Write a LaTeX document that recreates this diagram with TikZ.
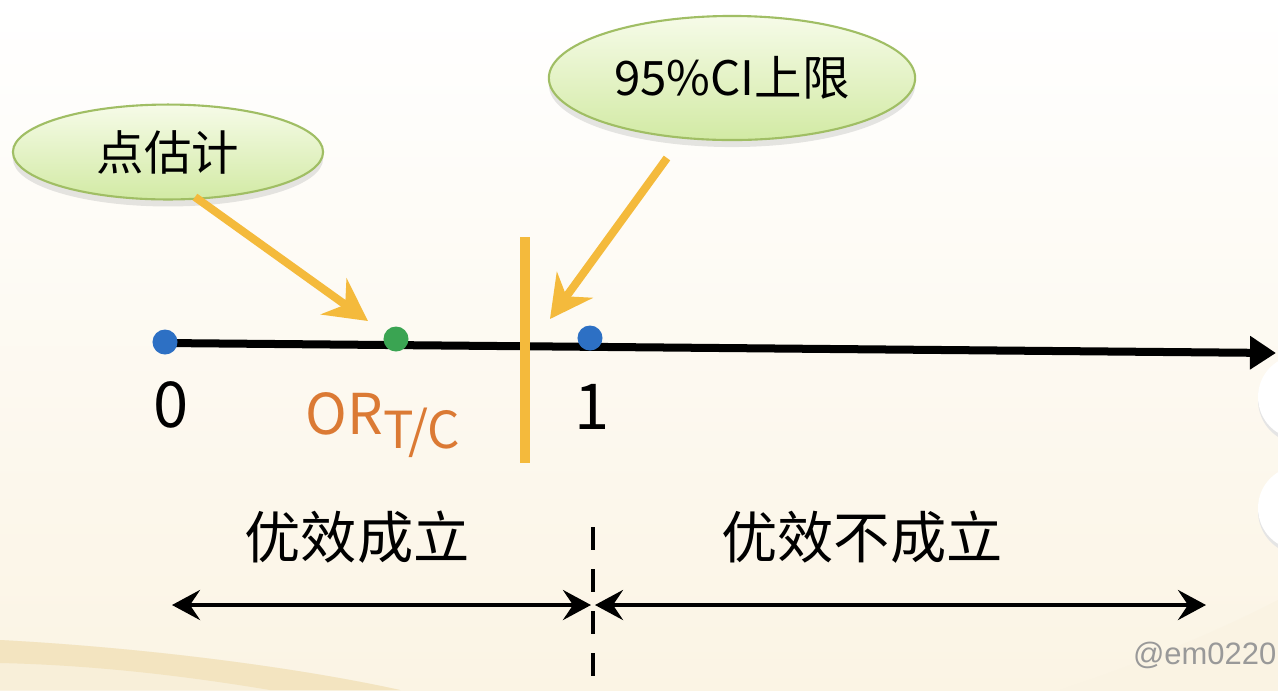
\documentclass[tikz,border=0pt]{standalone}
\usepackage{fontspec}
\setmainfont{Noto Sans CJK SC}
\newfontfamily\markfont{Liberation Sans}
\usetikzlibrary{arrows.meta,shapes.geometric,shadows}
\definecolor{gold}{RGB}{244,186,60}
\definecolor{rust}{RGB}{219,122,52}
\definecolor{dotblue}{RGB}{45,112,196}
\definecolor{dotgreen}{RGB}{58,164,82}
\definecolor{leaf}{RGB}{160,190,100}
\definecolor{budtop}{RGB}{246,251,232}
\definecolor{budbot}{RGB}{210,234,164}
\definecolor{cream}{RGB}{251,244,228}
\definecolor{sand}{RGB}{243,228,192}
\begin{document}
\begin{tikzpicture}[x=0.01cm, y=-0.01cm,
        bubble/.style={ellipse, draw=leaf, line width=0.6pt, top color=budtop, bottom color=budbot,
            drop shadow={opacity=0.2, shadow xshift=0pt, shadow yshift=-0.7mm}, font=\fontsize{13.5}{16}\selectfont},
        dot/.style={circle, fill=#1, inner sep=0pt, minimum size=2.5mm},
        pointer/.style={gold, line width=0.8mm, -{Stealth[length=4.2mm, width=4.4mm, inset=1.4mm]}},
        span/.style={line width=0.4mm, {Stealth[length=2.8mm, width=3mm, inset=1mm]}-{Stealth[length=2.8mm, width=3mm, inset=1mm]}},
        big/.style={font=\fontsize{16}{19}\selectfont}]
    \useasboundingbox (0,0) rectangle (1278,690);
    % background
    \shade[top color=white, bottom color=cream] (0,0) rectangle (1278,690);
    \fill[sand!60] (0,640)..controls(150,648)and(300,668)..(400,690) -- (0,690) -- cycle;
    \fill[sand] (0,640)..controls(150,648)and(300,668)..(400,690) -- (270,690)..controls(180,675)and(90,665)..(0,663) -- cycle;
    \fill[sand!45] (1060,690)..controls(1150,660)and(1220,630)..(1278,600) -- (1278,690) -- cycle;
    \foreach \y in {397,508}
        {
            \fill[black!10] (1302,\y+3) circle (44);
            \fill[white] (1300,\y) circle (42);
        }
    % axis
    \coordinate (start) at (165,343);
    \coordinate (end) at (1276,353);
    \draw[line width=0.8mm, -{Triangle[length=2.6mm, width=3.2mm]}] (start) -- (end);
    \coordinate (limit-top) at (525,237);
    \coordinate (limit-bot) at (525,463);
    \draw[gold, line width=1mm] (limit-top) -- (limit-bot);
    \node[dot=dotblue] (zero) at (165,342) {};
    \node[dot=dotgreen] (est) at (396,339) {};
    \node[dot=dotblue] (one) at (590,338) {};
    \node[font=\fontsize{18}{20}\selectfont] (zero-lbl) at (171,405) {0};
    \node[font=\fontsize{18}{20}\selectfont] (one-lbl) at (592,407) {1};
    \node[big, rust] (or-lbl) at (383,425) {OR\raisebox{-0.45ex}{\fontsize{14.5}{16}\selectfont T/C}};
    % bubbles
    \node[bubble, minimum width=3.1cm, minimum height=0.88cm] (est-bub) at (168,152) {点估计};
    \node[bubble, minimum width=3.64cm, minimum height=1.24cm] (ci-bub) at (732,78) {95\%CI上限};
    \coordinate (est-from) at (195,197);
    \coordinate (est-aim) at (368,321);
    \coordinate (ci-from) at (667,158);
    \coordinate (ci-aim) at (550,319);
    \draw[pointer] (est-from) -- (est-aim);
    \draw[pointer] (ci-from) -- (ci-aim);
    % regions
    \node[big] (yes) at (357,537) {优效成立};
    \node[big] (no) at (862,537) {优效不成立};
    \coordinate (split-top) at (593,527);
    \coordinate (split-bot) at (593,680);
    \draw[line width=0.45mm, dash pattern=on 2.3mm off 1.9mm] (split-top) -- (split-bot);
    \coordinate (yes-end) at (172,605);
    \coordinate (mid-l) at (591,605);
    \coordinate (mid-r) at (595,605);
    \coordinate (no-end) at (1206,605);
    \draw[span] (yes-end) -- (mid-l);
    \draw[span] (mid-r) -- (no-end);
    \node[anchor=east, inner sep=0pt, text=black!40, font=\markfont\fontsize{8.8}{10}\selectfont] (mark) at (1277,655) {@em0220};
\end{tikzpicture}
\end{document}
